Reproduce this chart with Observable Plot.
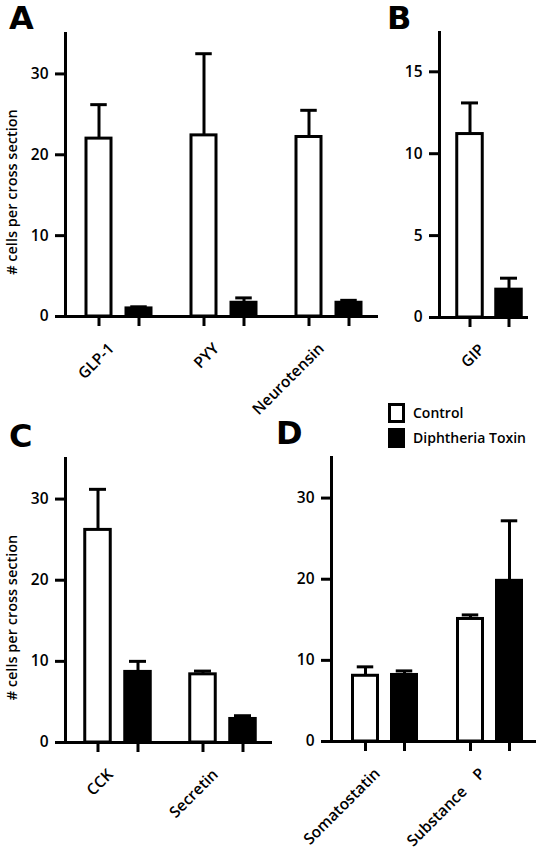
<!DOCTYPE html>
<html>
<head>
<meta charset="utf-8">
<script src="https://cdn.jsdelivr.net/npm/d3@7"></script>
<script src="https://cdn.jsdelivr.net/npm/@observablehq/plot@0.6"></script>
<style>
  body { margin: 0; background: #fff; }
  #fig { position: relative; width: 536px; height: 852px; overflow: hidden; background: #fff; font-family: "Open Sans", sans-serif; }
  .panel { position: absolute; }
  .letter { position: absolute; font-family: "DejaVu Sans", sans-serif; font-weight: 700; font-size: 32px; line-height: 1; color: #000; }
  .legend { position: absolute; left: 388px; top: 402px; font-family: "Open Sans", sans-serif; font-weight: 600; font-size: 14px; color: #000; }
  .legend .row { display: flex; align-items: center; height: 21px; margin-bottom: 4px; }
  .legend .sw { width: 17px; height: 20px; box-sizing: border-box; border: 3px solid #000; margin-right: 8px; }
</style>
</head>
<body>
<div id="fig"></div>
<script>
// ---- data ----
const seriesNames = ["Control", "Diphtheria Toxin"];

const panelA_categories = ["GLP-1", "PYY", "Neurotensin"];
const panelA_control    = [22.0, 22.4, 22.2];
const panelA_controlErr = [4.2, 10.1, 3.3];
const panelA_toxin      = [1.0, 1.7, 1.7];
const panelA_toxinErr   = [0.2, 0.6, 0.3];
const panelA_ticks      = [0, 10, 20, 30];

const panelB_categories = ["GIP"];
const panelB_control    = [11.2];
const panelB_controlErr = [1.9];
const panelB_toxin      = [1.7];
const panelB_toxinErr   = [0.7];
const panelB_ticks      = [0, 5, 10, 15];

const panelC_categories = ["CCK", "Secretin"];
const panelC_control    = [26.2, 8.4];
const panelC_controlErr = [5.0, 0.4];
const panelC_toxin      = [8.7, 2.9];
const panelC_toxinErr   = [1.3, 0.4];
const panelC_ticks      = [0, 10, 20, 30];

const panelD_categories = ["Somatostatin", "Substance\u00a0\u00a0\u00a0\u00a0P"];
const panelD_control    = [8.1, 15.1];
const panelD_controlErr = [1.1, 0.5];
const panelD_toxin      = [8.2, 19.8];
const panelD_toxinErr   = [0.5, 7.4];
const panelD_ticks      = [0, 10, 20, 30];

const yLabelText = "# cells per cross section";

// ---- drawing ----
const SW = 3;      // line width
const HW = 12.75;  // half bar width
const CAP = 8.5;   // half cap width

function makePanel(cfg) {
  const rows = [];
  cfg.categories.forEach((c, i) => {
    rows.push({cat: c, group: seriesNames[0], mean: cfg.control[i], err: cfg.controlErr[i]});
    rows.push({cat: c, group: seriesNames[1], mean: cfg.toxin[i], err: cfg.toxinErr[i]});
  });
  const ctrl = rows.filter(d => d.group === seriesNames[0]);
  const dt = rows.filter(d => d.group === seriesNames[1]);
  const step = cfg.groupStep, half = step / 2, off = cfg.offset;
  const [mt, mr, mb, ml] = cfg.margins;
  const top = d => d.mean + d.err;
  const marks = [
    Plot.ruleX(ctrl, {x: "cat", y1: "mean", y2: top, dx: -off, strokeWidth: SW, stroke: "black"}),
    Plot.ruleX(dt,   {x: "cat", y1: "mean", y2: top, dx:  off, strokeWidth: SW, stroke: "black"}),
    Plot.tickY(ctrl, {x: "cat", y: top, insetLeft: half - off - CAP, insetRight: half + off - CAP, strokeWidth: SW, stroke: "black"}),
    Plot.tickY(dt,   {x: "cat", y: top, insetLeft: half + off - CAP, insetRight: half - off - CAP, strokeWidth: SW, stroke: "black"}),
    Plot.barY(ctrl, {x: "cat", y: "mean", fill: "white", stroke: "black", strokeWidth: SW,
      insetLeft: half - off - HW, insetRight: half + off - HW}),
    Plot.barY(dt, {x: "cat", y: "mean", fill: "black", stroke: "black", strokeWidth: SW,
      insetLeft: half + off - HW, insetRight: half - off - HW}),
    Plot.ruleX(ctrl, {x: "cat", y1: 0, y2: 0, dx: -off, insetBottom: -10, strokeWidth: SW, stroke: "black"}),
    Plot.ruleX(dt,   {x: "cat", y1: 0, y2: 0, dx:  off, insetBottom: -10, strokeWidth: SW, stroke: "black"}),
    Plot.frame({anchor: "left", strokeWidth: SW, stroke: "black"}),
    Plot.frame({anchor: "bottom", strokeWidth: SW, stroke: "black"}),
    Plot.axisY({ticks: cfg.ticks, tickSize: 10, tickPadding: 7, strokeWidth: SW, stroke: "black",
      fontSize: 15.5, fontWeight: 600, label: null, tickFormat: d => String(d)}),
    Plot.text(cfg.categories, {x: d => d, text: d => d, frameAnchor: "bottom", rotate: -45, textAnchor: "end",
      dy: 33, dx: -4, fontSize: 15.5, fontWeight: 600, fill: "black"})
  ];
  if (cfg.yLabel) {
    marks.push(Plot.text([cfg.yLabel], {text: d => d, frameAnchor: "left", rotate: -90, textAnchor: "middle",
      dx: -53, dy: 17, fontSize: 14.5, fontWeight: 600, fill: "black"}));
  }
  const svg = Plot.plot({
    width: cfg.width, height: cfg.height,
    marginTop: mt, marginRight: mr, marginBottom: mb, marginLeft: ml,
    x: {type: "band", domain: cfg.categories, range: [ml, ml + cfg.categories.length * step],
        paddingInner: 0, paddingOuter: 0, axis: null},
    y: {domain: [0, cfg.yMax]},
    style: {fontFamily: "'Open Sans', sans-serif", fontWeight: 600, color: "black", background: "transparent", overflow: "visible"},
    marks
  });
  const wrap = document.createElement("div");
  wrap.className = "panel";
  wrap.style.left = cfg.left + "px";
  wrap.style.top = cfg.top + "px";
  wrap.appendChild(svg);
  return wrap;
}

const fig = document.getElementById("fig");

fig.appendChild(makePanel({
  categories: panelA_categories, control: panelA_control, controlErr: panelA_controlErr,
  toxin: panelA_toxin, toxinErr: panelA_toxinErr, ticks: panelA_ticks, yMax: 35,
  left: 0, top: 0, width: 380, height: 420, margins: [33, 4, 104, 65],
  groupStep: 105.5, offset: 20, yLabel: yLabelText
}));
fig.appendChild(makePanel({
  categories: panelB_categories, control: panelB_control, controlErr: panelB_controlErr,
  toxin: panelB_toxin, toxinErr: panelB_toxinErr, ticks: panelB_ticks, yMax: 17.4,
  left: 380, top: 0, width: 156, height: 420, margins: [32, 10, 103, 59],
  groupStep: 100, offset: 19.5
}));
fig.appendChild(makePanel({
  categories: panelC_categories, control: panelC_control, controlErr: panelC_controlErr,
  toxin: panelC_toxin, toxinErr: panelC_toxinErr, ticks: panelC_ticks, yMax: 35,
  left: 0, top: 420, width: 280, height: 432, margins: [38, 10, 110, 65],
  groupStep: 105, offset: 20, yLabel: yLabelText
}));
fig.appendChild(makePanel({
  categories: panelD_categories, control: panelD_control, controlErr: panelD_controlErr,
  toxin: panelD_toxin, toxinErr: panelD_toxinErr, ticks: panelD_ticks, yMax: 35,
  left: 280, top: 420, width: 256, height: 432, margins: [37, 0, 111, 51],
  groupStep: 105.5, offset: 19.5
}));

// panel letters
[["A", 9, 2], ["B", 387, 2], ["C", 9, 420], ["D", 276, 417]].forEach(([t, x, y]) => {
  const el = document.createElement("div");
  el.className = "letter";
  el.textContent = t;
  el.style.left = x + "px";
  el.style.top = y + "px";
  fig.appendChild(el);
});

// legend
const legend = document.createElement("div");
legend.className = "legend";
seriesNames.forEach((name, i) => {
  const row = document.createElement("div");
  row.className = "row";
  const sw = document.createElement("div");
  sw.className = "sw";
  sw.style.background = i === 0 ? "#fff" : "#000";
  const label = document.createElement("span");
  label.textContent = name;
  row.appendChild(sw);
  row.appendChild(label);
  legend.appendChild(row);
});
fig.appendChild(legend);
</script>
</body>
</html>
